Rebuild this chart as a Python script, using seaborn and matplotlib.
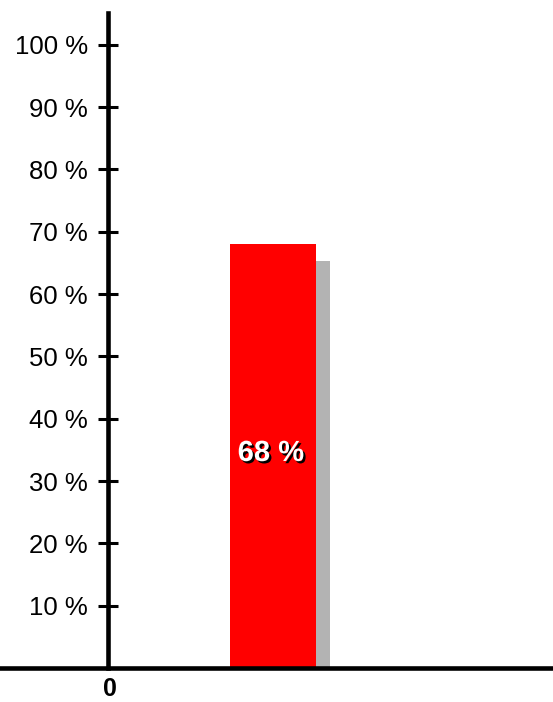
import matplotlib
matplotlib.use("Agg")
import matplotlib.pyplot as plt
import matplotlib.patheffects as pe
import seaborn as sns
import pandas as pd

categories = ["A"]
values = [68]
tick_values = [10, 20, 30, 40, 50, 60, 70, 80, 90, 100]
tick_labels = ["10 %", "20 %", "30 %", "40 %", "50 %", "60 %", "70 %", "80 %", "90 %", "100 %"]
bar_label = "68 %"
origin_label = "0"

sns.set_theme(style="white")
plt.rcParams["font.family"] = ["Liberation Sans", "DejaVu Sans"]

W, H = 553, 702
fig = plt.figure(figsize=(W / 100, H / 100), dpi=100)
ax = fig.add_axes([0, (H - 668) / H, 551 / W, 655 / H])
ax.set_facecolor("none")

df = pd.DataFrame({"cat": categories, "val": values})

# shadow (offset right and down)
shadow_dx = 0.13
shadow_drop = 2.7
ax.bar([0 + shadow_dx], [values[0] - shadow_drop], width=0.8, color="#b3b3b3", zorder=1)

sns.barplot(data=df, x="cat", y="val", color="#ff0000", saturation=1, width=0.8, ax=ax, zorder=2)
for p in ax.patches:
    p.set_edgecolor("none")

ax.set_xlim(-273 / 107.5, (551 - 273) / 107.5)
ax.set_ylim(0, 105.1)

ax.spines["left"].set_position(("data", (108 - 273) / 107.5))
ax.spines["right"].set_visible(False)
ax.spines["top"].set_visible(False)
for s in ["left", "bottom"]:
    ax.spines[s].set_color("black")
    ax.spines[s].set_linewidth(3.3)
    ax.spines[s].set_zorder(5)

ax.set_yticks(tick_values)
ax.set_yticklabels(tick_labels, fontsize=18.5, color="black")
ax.tick_params(axis="y", direction="inout", length=14, width=2.2, color="black", pad=7.5, left=True)
ax.set_xticks([])
ax.set_xlabel("")
ax.set_ylabel("")
ax.grid(False)

ax.text(-0.02, values[0] / 2 + 0.5, bar_label, ha="center", va="center", fontsize=21, fontweight="bold",
        color="white", zorder=6,
        path_effects=[pe.withSimplePatchShadow(offset=(1.6, -1.6), shadow_rgbFace="black", alpha=1)])

fig.text(110 / W, 1 - 689 / H, origin_label, ha="center", va="center", fontsize=18, fontweight="bold",
         color="black")

fig.savefig("out.png", dpi=100)
